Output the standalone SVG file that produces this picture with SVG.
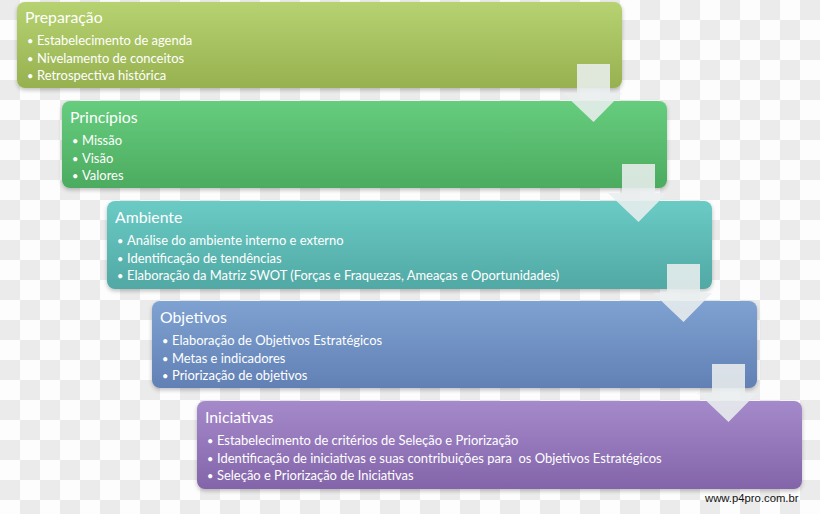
<svg xmlns="http://www.w3.org/2000/svg" width="820" height="514" viewBox="0 0 820 514">
<defs>
<pattern id="checker" x="0" y="0" width="40" height="40" patternUnits="userSpaceOnUse">
<rect width="40" height="40" fill="#fdfdfd"/>
<rect x="0" y="0" width="20" height="20" fill="#ebebeb"/>
<rect x="20" y="20" width="20" height="20" fill="#ebebeb"/>
</pattern>
<linearGradient id="g1" x1="0" y1="0" x2="0" y2="1"><stop offset="0" stop-color="#b7d271"/><stop offset="1" stop-color="#97b150"/></linearGradient>
<linearGradient id="g2" x1="0" y1="0" x2="0" y2="1"><stop offset="0" stop-color="#66cd7e"/><stop offset="1" stop-color="#4cab60"/></linearGradient>
<linearGradient id="g3" x1="0" y1="0" x2="0" y2="1"><stop offset="0" stop-color="#6acbc5"/><stop offset="1" stop-color="#51a8a4"/></linearGradient>
<linearGradient id="g4" x1="0" y1="0" x2="0" y2="1"><stop offset="0" stop-color="#7ea2d2"/><stop offset="1" stop-color="#6280b4"/></linearGradient>
<linearGradient id="g5" x1="0" y1="0" x2="0" y2="1"><stop offset="0" stop-color="#a58acb"/><stop offset="1" stop-color="#8364a9"/></linearGradient>
<filter id="sh" x="-5%" y="-10%" width="110%" height="130%">
<feGaussianBlur in="SourceAlpha" stdDeviation="2"/>
<feOffset dx="0" dy="2" result="b"/>
<feComponentTransfer><feFuncA type="linear" slope="0.25"/></feComponentTransfer>
<feMerge><feMergeNode/><feMergeNode in="SourceGraphic"/></feMerge>
</filter>
</defs>
<style>
.box{filter:url(#sh)}
.t{font-family:Lato,"Open Sans",sans-serif;fill:#ffffff;white-space:pre}
.title{font-size:15.8px}
.item{font-size:12.95px}
.dot{font-size:11px}
.arrow{fill:#e9eeee;fill-opacity:0.88}
.foot{font-family:"Liberation Sans",Arial,sans-serif;font-size:11.3px;fill:#111111}
</style>
<rect width="820" height="514" fill="url(#checker)"/>

<g id="node-preparacao">
<rect class="box" x="17" y="2" width="605" height="86" rx="8" fill="url(#g1)"/>
<text class="t title" x="25" y="22.5">Preparação</text>
<text class="t dot" x="27" y="45">•</text><text class="t item" x="37" y="45">Estabelecimento de agenda</text>
<text class="t dot" x="27" y="62.5">•</text><text class="t item" x="37" y="62.5">Nivelamento de conceitos</text>
<text class="t dot" x="27" y="80">•</text><text class="t item" x="37" y="80">Retrospectiva histórica</text>
</g>

<g id="node-principios">
<rect class="box" x="62" y="101" width="605" height="87" rx="8" fill="url(#g2)"/>
<text class="t title" x="70" y="122.5">Princípios</text>
<text class="t dot" x="72" y="145">•</text><text class="t item" x="82" y="145">Missão</text>
<text class="t dot" x="72" y="162.5">•</text><text class="t item" x="82" y="162.5">Visão</text>
<text class="t dot" x="72" y="180">•</text><text class="t item" x="82" y="180">Valores</text>
</g>

<g id="node-ambiente">
<rect class="box" x="107" y="201" width="605" height="88" rx="8" fill="url(#g3)"/>
<text class="t title" x="115" y="222.5">Ambiente</text>
<text class="t dot" x="117" y="245">•</text><text class="t item" x="127" y="245">Análise do ambiente interno e externo</text>
<text class="t dot" x="117" y="262.5">•</text><text class="t item" x="127" y="262.5">Identificação de tendências</text>
<text class="t dot" x="117" y="280">•</text><text class="t item" x="127" y="280">Elaboração da Matriz SWOT (Forças e Fraquezas, Ameaças e Oportunidades)</text>
</g>

<g id="node-objetivos">
<rect class="box" x="152" y="301" width="605" height="87" rx="8" fill="url(#g4)"/>
<text class="t title" x="160" y="322.5">Objetivos</text>
<text class="t dot" x="162" y="345">•</text><text class="t item" x="172" y="345">Elaboração de Objetivos Estratégicos</text>
<text class="t dot" x="162" y="362.5">•</text><text class="t item" x="172" y="362.5">Metas e indicadores</text>
<text class="t dot" x="162" y="380">•</text><text class="t item" x="172" y="380">Priorização de objetivos</text>
</g>

<g id="node-iniciativas">
<rect class="box" x="197" y="401" width="605" height="88" rx="8" fill="url(#g5)"/>
<text class="t title" x="205" y="422.5">Iniciativas</text>
<text class="t dot" x="207" y="445">•</text><text class="t item" x="217" y="445">Estabelecimento de critérios de Seleção e Priorização</text>
<text class="t dot" x="207" y="462.5">•</text><text class="t item" x="217" y="462.5">Identificação de iniciativas e suas contribuições para  os Objetivos Estratégicos</text>
<text class="t dot" x="207" y="480">•</text><text class="t item" x="217" y="480">Seleção e Priorização de Iniciativas</text>
</g>

<g id="connectors">
<path class="arrow" d="M577,64 H610 V93 H622 L593.5,122 L563,93 H577 Z"/>
<path class="arrow" d="M622,164 H655 V193 H667 L638.5,222 L608,193 H622 Z"/>
<path class="arrow" d="M667,264 H700 V293 H712 L683.5,322 L653,293 H667 Z"/>
<path class="arrow" d="M712,364 H745 V393 H757 L728.5,422 L698,393 H712 Z"/>
</g>

<text class="foot" x="705" y="502">www.p4pro.com.br</text>
</svg>
